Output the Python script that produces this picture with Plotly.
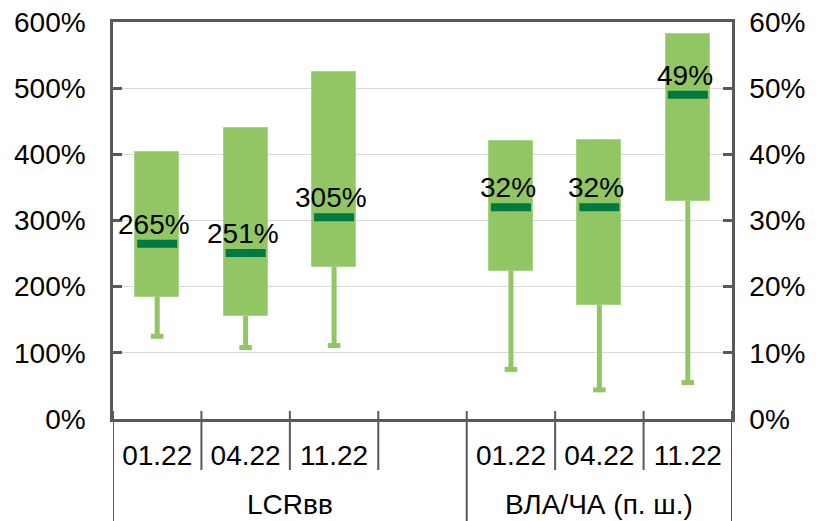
import plotly.graph_objects as go

# Reporting periods and indicator groups
periods = ["01.22", "04.22", "11.22"]
groups = ["LCRвв", "ВЛА/ЧА (п. ш.)"]

# LCRвв distribution (left axis, %)
lcr_min = [125, 108, 111]
lcr_q1 = [185, 156, 230]
lcr_median = [265, 251, 305]
lcr_q3 = [404, 440, 524]

# ВЛА/ЧА distribution (right axis, %)
vla_min = [7.5, 4.4, 5.5]
vla_q1 = [22.4, 17.3, 33.0]
vla_median = [32, 32, 49]
vla_q3 = [42.0, 42.2, 58.2]

# Slot layout: three periods, an empty gap slot, three periods
slot_labels = periods + [""] + periods
lcr_x = [0, 1, 2]
vla_x = [4, 5, 6]

BOX = "#92C664"
BOX_EDGE = "#A9D488"
MEDIAN = "#007A40"
AXIS = "#595959"
GRID = "#D9D9D9"
FONT = "Liberation Sans, Arial, sans-serif"
FS = 28

W, H = 820, 521
M_L, M_R, M_T, M_B = 113, 88, 22, 102
PLOT_H = H - M_T - M_B

fig = go.Figure()


def add_series(xs, mins, q1, med, q3, yaxis):
    # interquartile box
    fig.add_trace(go.Bar(
        x=xs, base=q1, y=[b - a for a, b in zip(q1, q3)], width=0.5,
        marker=dict(color=BOX, line=dict(color=BOX_EDGE, width=1)),
        yaxis=yaxis, showlegend=False, hoverinfo="skip",
    ))
    # lower whisker from the box down to the minimum
    wx, wy = [], []
    for x, lo, hi in zip(xs, mins, q1):
        wx += [x, x, None]
        wy += [lo, hi, None]
    fig.add_trace(go.Scatter(
        x=wx, y=wy, mode="lines", line=dict(color=BOX, width=5),
        yaxis=yaxis, showlegend=False, hoverinfo="skip",
    ))
    # whisker end cap
    fig.add_trace(go.Scatter(
        x=xs, y=mins, mode="markers",
        marker=dict(symbol="line-ew", size=9, line=dict(color=BOX, width=5)),
        yaxis=yaxis, showlegend=False, hoverinfo="skip",
    ))
    # median bar
    fig.add_trace(go.Scatter(
        x=xs, y=med, mode="markers",
        marker=dict(symbol="line-ew", size=28.6,
                    line=dict(color=MEDIAN, width=8)),
        yaxis=yaxis, showlegend=False, hoverinfo="skip",
    ))
    yref = "y" if yaxis == "y" else "y2"
    for x, m in zip(xs, med):
        fig.add_annotation(
            x=x, y=m, xref="x", yref=yref, text=f"{m}%", showarrow=False,
            yanchor="bottom", yshift=2, xshift=-3,
            font=dict(family=FONT, size=FS, color="black"),
        )


add_series(lcr_x, lcr_min, lcr_q1, lcr_median, lcr_q3, "y")
add_series(vla_x, vla_min, vla_q1, vla_median, vla_q3, "y2")

# Category separators under the axis
n_slots = len(slot_labels)
up = 8 / PLOT_H
short_bottom = -51 / PLOT_H
full_bottom = -M_B / PLOT_H
group_edges = [-0.5, len(periods) + 0.5, n_slots - 0.5]
for k in range(n_slots + 1):
    xb = k - 0.5
    full = xb in group_edges
    fig.add_shape(type="line", xref="x", yref="paper", x0=xb, x1=xb,
                  y0=up, y1=full_bottom if full else short_bottom,
                  line=dict(color=AXIS, width=2), layer="above")

# Group labels
group_centers = [(group_edges[0] + group_edges[1]) / 2,
                 (group_edges[1] + group_edges[2]) / 2]
for g, c in zip(groups, group_centers):
    fig.add_annotation(x=c, y=-0.215, xref="x", yref="paper", text=g,
                       showarrow=False, yanchor="middle",
                       font=dict(family=FONT, size=FS, color="black"))

fig.update_layout(
    width=W, height=H,
    margin=dict(l=M_L, r=M_R, t=M_T, b=M_B, pad=0, autoexpand=False),
    paper_bgcolor="white", plot_bgcolor="white",
    font=dict(family=FONT, size=FS, color="black"),
    bargap=0,
    xaxis=dict(
        range=[-0.5, n_slots - 0.5], tickmode="array",
        tickvals=list(range(n_slots)), ticktext=slot_labels,
        showline=True, linecolor=AXIS, linewidth=2.5, mirror=True,
        showgrid=False, zeroline=False, ticks="", ticklabelstandoff=10,
        tickfont=dict(family=FONT, size=FS), automargin=False,
    ),
    yaxis=dict(
        range=[0, 600], dtick=100, ticksuffix="%",
        showgrid=True, gridcolor=GRID, gridwidth=1,
        showline=True, linecolor=AXIS, linewidth=2.5,
        ticks="inside", ticklen=9, tickwidth=2.5, tickcolor=AXIS,
        zeroline=False, ticklabelstandoff=19,
        tickfont=dict(family=FONT, size=FS), automargin=False,
    ),
    yaxis2=dict(
        range=[0, 60], dtick=10, ticksuffix="%", overlaying="y", side="right",
        showgrid=False, showline=True, linecolor=AXIS, linewidth=2.5,
        ticks="inside", ticklen=9, tickwidth=2.5, tickcolor=AXIS,
        zeroline=False, ticklabelstandoff=9,
        tickfont=dict(family=FONT, size=FS), automargin=False,
    ),
)

fig.write_html("out.html")
